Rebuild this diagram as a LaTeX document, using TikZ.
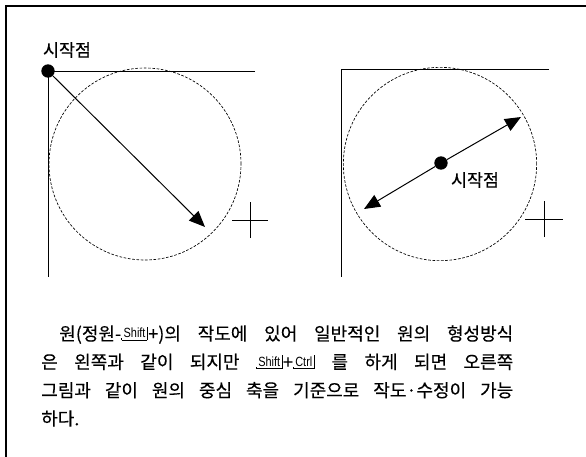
\documentclass[tikz,border=0pt]{standalone}
\usepackage{fontspec}
\usepackage{graphicx}
\setmainfont{Liberation Sans}
\newfontfamily\krfont[FakeBold=0.3]{Noto Sans CJK KR}
\usepackage{tikz}
\usetikzlibrary{arrows.meta,positioning,calc}
\newcommand{\keycap}[1]{%
  \setbox0=\hbox{\rmfamily\fontsize{10pt}{11pt}\selectfont\scalebox{0.82}[1]{\,#1\,}}%
  \hbox{\vrule height1.5pt depth0pt width0.4pt%
    \vbox{\copy0\kern1.2pt\hrule height0.55pt}%
    \vrule height10pt depth0pt width0.75pt}}

\begin{document}
\begin{tikzpicture}[x=0.75pt,y=-0.75pt,
    frame/.style={line width=1.1pt},
    corner/.style={line width=0.75pt},
    guide/.style={line width=0.5pt,dash pattern=on 2pt off 1.2pt},
    dot/.style={circle,fill=black,inner sep=0pt,minimum size=10pt},
    arr/.style={line width=0.75pt,-{Triangle[length=12pt,width=10pt]}},
    cursor/.style={line width=0.6pt},
    label/.style={font=\krfont\fontsize{13pt}{15pt}\selectfont},
    para/.style={text width=354pt,align=justify,inner sep=0pt,
        font=\krfont\fontsize{13.5pt}{21.25pt}\selectfont}]
    \useasboundingbox (0,0) rectangle (586,457);

    % Frame
    \draw[frame] (6,457) -- (6,6) -- (586,6);

    % Left: start point at the corner
    \node[dot] (start1) at (48,71) {};
    \coordinate (topL) at (255,71);
    \coordinate (botL) at (48,277);
    \draw[corner] (topL) -- (start1.center) -- (botL);
    \draw[guide] (145,164) circle[radius=72pt];
    \coordinate (tip1) at (205,227);
    \draw[arr] (start1) -- (tip1);
    \node[label] (lab1) at (67,50) {시작점};
    \coordinate (cursorL) at (250,220);
    \draw[cursor] ([xshift=-13.5pt]cursorL) -- ([xshift=13.5pt]cursorL);
    \draw[cursor] ([yshift=-13.5pt]cursorL) -- ([yshift=13.5pt]cursorL);

    % Right: start point at the centre
    \coordinate (cornerR) at (341,69);
    \coordinate (topR) at (549,69);
    \coordinate (botR) at (341,277);
    \draw[corner] (topR) -- (cornerR) -- (botR);
    \draw[guide] (440,164) circle[radius=72.5pt];
    \node[dot] (start2) at (441,163) {};
    \coordinate (tip2) at (521,117);
    \coordinate (tip3) at (364,209);
    \draw[arr] (start2) -- (tip2);
    \draw[arr] (start2) -- (tip3);
    \node[label] (lab2) at (475,180) {시작점};
    \coordinate (cursorR) at (544,219);
    \draw[cursor] ([xshift=-14pt]cursorR) -- ([xshift=14pt]cursorR);
    \draw[cursor] ([yshift=-13.5pt]cursorR) -- ([yshift=13.5pt]cursorR);

    % Description
    \node[para,anchor=north west] (desc) at (41,325) {\spaceskip=0.25em plus 1fil
        \hspace*{1em}원(정원-\keycap{Shift}+)의 작도에 있어 일반적인 원의 형성방식\linebreak
        은 왼쪽과 같이 되지만 \keycap{Shift}+\keycap{Ctrl} 를 하게 되면 오른쪽\linebreak
        그림과 같이 원의 중심 축을 기준으로 작도·수정이 가능\linebreak
        하다.};
\end{tikzpicture}
\end{document}
